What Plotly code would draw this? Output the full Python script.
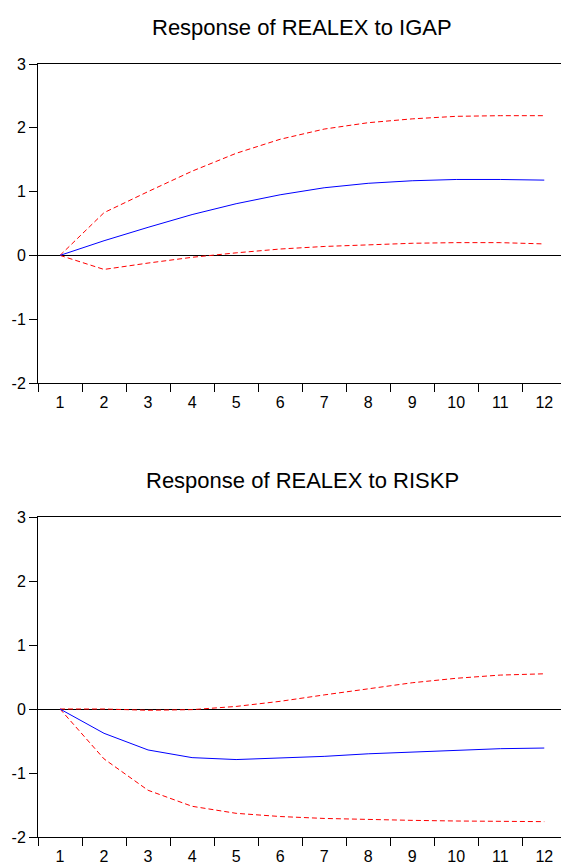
import plotly.graph_objects as go

periods = [str(i) for i in range(1, 13)]

igap_resp = [0.0, 0.23, 0.44, 0.64, 0.81, 0.95, 1.06, 1.13, 1.17, 1.19, 1.19, 1.18]
igap_upper = [0.0, 0.67, 1.00, 1.32, 1.60, 1.82, 1.98, 2.08, 2.14, 2.18, 2.19, 2.19]
igap_lower = [0.0, -0.22, -0.12, -0.03, 0.04, 0.10, 0.14, 0.17, 0.19, 0.20, 0.20, 0.18]

riskp_resp = [0.0, -0.38, -0.64, -0.76, -0.79, -0.77, -0.74, -0.70, -0.67, -0.64, -0.62, -0.61]
riskp_upper = [0.0, 0.0, -0.02, -0.01, 0.04, 0.12, 0.22, 0.32, 0.41, 0.48, 0.53, 0.55]
riskp_lower = [0.0, -0.78, -1.27, -1.52, -1.63, -1.68, -1.71, -1.73, -1.74, -1.75, -1.75, -1.76]

titles = ["Response of REALEX to IGAP", "Response of REALEX to RISKP"]
y_ticks = [-2, -1, 0, 1, 2, 3]
y_tick_text = ["-2", "-1", "0", "1", "2", "3"]

FONT = "Liberation Sans, Arial, sans-serif"
BLUE = "#0000FF"
RED = "#FF0000"

fig = go.Figure()

def add_panel(resp, up, lo, xa, ya):
    fig.add_trace(go.Scatter(x=periods, y=up, mode="lines", xaxis=xa, yaxis=ya,
                             line=dict(color=RED, width=1, dash="5px,3px"), showlegend=False))
    fig.add_trace(go.Scatter(x=periods, y=lo, mode="lines", xaxis=xa, yaxis=ya,
                             line=dict(color=RED, width=1, dash="5px,3px"), showlegend=False))
    fig.add_trace(go.Scatter(x=periods, y=resp, mode="lines", xaxis=xa, yaxis=ya,
                             line=dict(color=BLUE, width=1), showlegend=False))

add_panel(igap_resp, igap_upper, igap_lower, "x", "y")
add_panel(riskp_resp, riskp_upper, riskp_lower, "x2", "y2")

H = 867.0
def dom(top_px, bot_px):
    return [1 - bot_px / H, 1 - top_px / H]

xcommon = dict(type="category", categoryorder="array", categoryarray=periods,
               tickson="boundaries", ticks="outside", ticklen=8, tickcolor="black",
               tickwidth=1, showline=True, linecolor="black", linewidth=1, mirror=True,
               showgrid=False, zeroline=False, range=[-0.5, 11.38], automargin=False,
               ticklabelstandoff=5,
               tickfont=dict(family=FONT, size=16, color="black"), fixedrange=True)
ycommon = dict(range=[-2, 3], tickvals=y_ticks, ticktext=y_tick_text, ticks="outside",
               ticklen=8, tickcolor="black", tickwidth=1, showline=True, linecolor="black",
               linewidth=1, mirror=False, showgrid=False, zeroline=True,
               zerolinecolor="black", zerolinewidth=1, automargin=False,
               tickfont=dict(family=FONT, size=16, color="black"), fixedrange=True)

fig.update_layout(
    width=561, height=867,
    margin=dict(l=38, r=0, t=0, b=0),
    paper_bgcolor="white", plot_bgcolor="white",
    hovermode=False,
    xaxis=dict(**xcommon, anchor="y"),
    yaxis=dict(**ycommon, anchor="x", domain=dom(64, 383)),
    xaxis2=dict(**xcommon, anchor="y2"),
    yaxis2=dict(**ycommon, anchor="x2", domain=dom(517, 837)),
    annotations=[
        dict(text=titles[0], x=0.5055, y=1 - 27 / H, xref="paper", yref="paper",
             showarrow=False, xanchor="center", yanchor="middle",
             font=dict(family=FONT, size=22, color="black")),
        dict(text=titles[1], x=0.5055, y=1 - 480 / H, xref="paper", yref="paper",
             showarrow=False, xanchor="center", yanchor="middle",
             font=dict(family=FONT, size=22, color="black")),
    ],
)

fig.write_html("out.html", config={"displayModeBar": False, "staticPlot": True},
               post_script="document.body.style.margin='0';document.body.style.overflow='hidden';")
